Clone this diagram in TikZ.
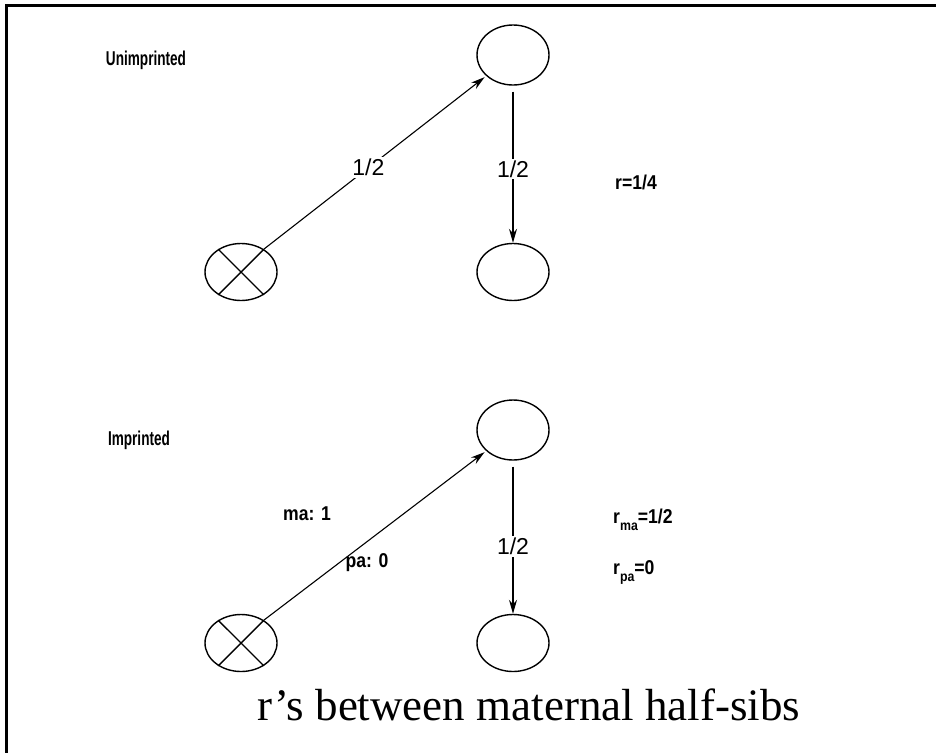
\documentclass[tikz,border=0pt]{standalone}
\usepackage{fontspec}
\setmainfont{Liberation Serif}
\newfontfamily\hv{Liberation Sans}
\newfontfamily\hvn[FakeStretch=0.68]{Liberation Sans}
\newfontfamily\hvm[FakeStretch=0.88]{Liberation Sans}
\usetikzlibrary{arrows.meta,shapes.geometric}
\begin{document}
\begin{tikzpicture}[x=1pt,y=-1pt,
  indiv/.style={draw, ellipse, minimum width=72pt, minimum height=57pt, inner sep=0pt, line width=1.4pt},
  link/.style={line width=1.1pt, -{Stealth[length=14pt,width=8pt]}},
  frac/.style={fill=white, font=\hv\fontsize{23}{23}\selectfont, inner sep=2pt},
  headlab/.style={font=\hvn\bfseries\fontsize{20}{20}\selectfont, inner sep=0pt},
  boldlab/.style={font=\hvm\bfseries\fontsize{20}{20}\selectfont, inner sep=0pt},
  crossline/.style={line width=1.4pt}
]
\useasboundingbox (0,0) rectangle (936,753);
\draw[line width=3pt] (936,5) -- (6,5) -- (6,753);

% upper panel
\node[headlab] (L1) at (146,60) {Unimprinted};
\node[indiv, minimum height=60pt] (A1) at (513,55) {};
\node[indiv] (C1) at (513,272) {};
\node[indiv] (X1) at (241,272) {};
\draw[crossline] (X1.45) -- (X1.225) (X1.135) -- (X1.315);
\draw[link, shorten >=2pt] (X1.45) -- (A1.218) node[frac, pos=0.47] {1/2};
\draw[link, shorten <=6pt] (A1.south) -- (C1.north) node[frac, pos=0.53] {1/2};
\node[boldlab] (R1) at (636,182) {r=1/4};

% lower panel
\node[headlab] (L2) at (139,440) {Imprinted};
\node[indiv, minimum height=60pt] (A2) at (513,430) {};
\node[indiv] (C2) at (513,643) {};
\node[indiv] (X2) at (241,643) {};
\draw[crossline] (X2.45) -- (X2.225) (X2.135) -- (X2.315);
\draw[link, shorten >=2pt] (X2.45) -- (A2.218);
\draw[link, shorten <=6pt] (A2.south) -- (C2.north) node[frac, pos=0.56] {1/2};
\node[boldlab] (MA) at (307,514) {ma: 1};
\node[boldlab] (PA) at (367,563) {pa: 0};
\node[boldlab, anchor=west] (RMA) at (613,520) {r\raisebox{-7pt}{\fontsize{14}{14}\selectfont ma}=1/2};
\node[boldlab, anchor=west] (RPA) at (613,572) {r\raisebox{-7pt}{\fontsize{14}{14}\selectfont pa}=0};

% title
\node[font=\fontsize{45}{45}\selectfont, inner sep=0pt] (T) at (529,705) {r’s between maternal half-sibs};
\end{tikzpicture}
\end{document}
